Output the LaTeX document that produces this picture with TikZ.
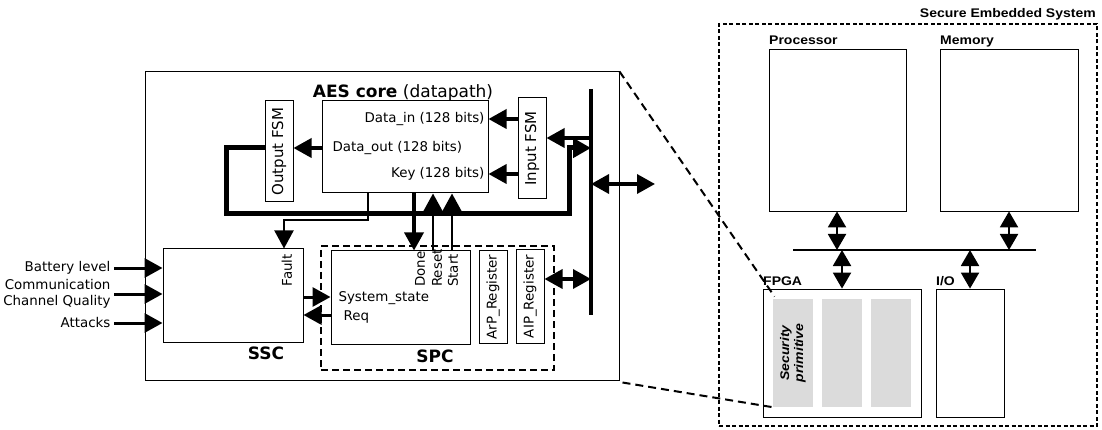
\documentclass[tikz,border=0pt]{standalone}
\usepackage{fontspec}
\setmainfont{DejaVu Sans}
\newfontfamily\sysfont[FakeStretch=1.12]{Liberation Sans}
\usetikzlibrary{arrows.meta}

\begin{document}
\begin{tikzpicture}[x=1pt,y=-1pt,font=\fontsize{13.4}{15}\selectfont,
   box/.style={draw,line width=1pt,inner sep=0pt},
   sbox/.style={draw,line width=0.8pt,inner sep=0pt},
   arr/.style={line width=3.5pt,-{Triangle[length=18pt,width=19pt]}},
   darr/.style={line width=3.5pt,{Triangle[length=18pt,width=19pt]}-{Triangle[length=18pt,width=19pt]}},
   sarr/.style={line width=2pt,{Triangle[length=16pt,width=18pt]}-{Triangle[length=16pt,width=18pt]}},
   spcdash/.style={line width=2pt,dash pattern=on 7pt off 4pt},
   sysdash/.style={line width=1.6pt,dash pattern=on 4pt off 2.5pt},
   zoomln/.style={line width=2pt,dash pattern=on 8pt off 5pt},
   big/.style={font=\fontsize{17}{19}\selectfont\bfseries},
   vlab/.style={rotate=90,anchor=west,inner sep=1pt},
   rlab/.style={font=\sysfont\fontsize{12.5}{14}\selectfont\bfseries}]
\useasboundingbox (0,0) rectangle (1102,430);
% box from its corners: [opts]{name}{x1}{y1}{x2}{y2}{text}
\newcommand{\blk}[7][]{\pgfmathsetmacro{\bw}{#5-#3}\pgfmathsetmacro{\bh}{#6-#4}
  \node[box,minimum width=\bw pt,minimum height=\bh pt,#1] (#2) at ({(#3+#5)/2},{(#4+#6)/2}) {#7};}
% left: the AES core block
\blk{core}{145}{72}{619}{380}{}
\blk{aes}{322}{101}{488}{193}{}
\node[anchor=base,font=\fontsize{17}{19}\selectfont] (aest) at (403,98) {\textbf{AES core} (datapath)};
\blk{ofsm}{265}{101}{293}{202}{}
\node[rotate=90,font=\fontsize{15}{17}\selectfont] (ofsmt) at (ofsm) {Output FSM};
\blk{ifsm}{518}{98}{546}{199}{}
\node[rotate=90,font=\fontsize{15}{17}\selectfont] (ifsmt) at (ifsm) {Input FSM};
\node[anchor=east] (din) at (488,119) {Data\_in (128 bits)};
\node[anchor=west] (dout) at (329,148) {Data\_out (128 bits)};
\node[anchor=east] (key) at (488,174) {Key (128 bits)};
\draw[arr] (ifsm.west |- din) -- (aes.east |- din);
\draw[arr] (ifsm.west |- key) -- (aes.east |- key);
\draw[arr] (aes.west |- dout) -- (ofsm.east |- dout);
% bus and loop back
\coordinate (bt) at (591,89); \coordinate (bb) at (591,315);
\draw[line width=3.5pt] (bt) -- (bb);
\coordinate (lp) at (226,214); \coordinate (lq) at (569,214); \coordinate (lin) at (591,148);
\draw[line width=5pt,-{Triangle[length=18pt,width=19pt]}] (ofsm.west |- dout) -| (lp) -- (lq) |- (lin);
\coordinate (fin) at (591,138);
\draw[arr] (fin) -- (ifsm.east |- fin);
\coordinate (ext) at (655,184);
\draw[darr] (bt |- ext) -- (ext);
% SSC
\blk{ssc}{163}{249}{303}{342}{}
\node[big] (ssct) at (266,353) {SSC};
\node[rotate=90,anchor=east,inner sep=1pt] (fault) at (287,253) {Fault};
\draw[arr,line width=2pt] (aes.south -| 368,0) |- (284,220) -- (ssc.north -| 284,0);
\node[anchor=east] (bat) at (114,268) {Battery level};
\node[anchor=east,align=right,font=\fontsize{13.4}{16}\selectfont] (ccq) at (114,294) {Communication\\Channel Quality};
\node[anchor=east] (att) at (114,323) {Attacks};
\draw[arr,line width=3pt] (bat.east) -- (ssc.west |- bat);
\draw[arr,line width=3pt] (ccq.east) -- (ssc.west |- ccq);
\draw[arr,line width=3pt] (att.east) -- (ssc.west |- att);
% SPC
\blk[spcdash]{spcd}{321}{246}{554}{370}{}
\blk{spc}{331}{251}{470}{344}{}
\node[big] (spct) at (435,356) {SPC};
\blk{arp}{479}{251}{507}{343}{}
\blk{aip}{516}{250}{544}{343}{}
\node[rotate=90] (arpt) at (arp) {ArP\_Register};
\node[rotate=90] (aipt) at (aip) {AIP\_Register};
\node[anchor=base west] (sst) at (335,301) {System\_state};
\node[anchor=base west] (req) at (340,320) {Req};
\draw[arr,line width=3pt] (ssc.east |- 0,297) -- (spc.west |- 0,297);
\draw[arr,line width=3pt] (spc.west |- 0,315) -- (ssc.east |- 0,315);
\node[vlab] (done) at (420,288) {Done};
\node[vlab] (reset) at (437,288) {Reset};
\node[vlab] (start) at (453,288) {Start};
\draw[arr] (aes.south -| 414,0) -- (spc.north -| 414,0);
\draw[arr,line width=2.5pt] (spc.north -| 433,0) -- (aes.south -| 433,0);
\draw[arr,line width=2.5pt] (spc.north -| 452,0) -- (aes.south -| 452,0);
\draw[darr] (aip.east |- 0,279) -- (bt |- 0,279);
% right: secure embedded system
\blk[sysdash]{ses}{719}{24}{1097}{426}{}
\node[rlab,anchor=base east,inner sep=0pt] (sest) at (1096,18) {Secure Embedded System};
\blk[sbox]{proc}{769}{49}{906}{211}{}
\blk[sbox]{mem}{940}{49}{1078}{211}{}
\blk[sbox]{fpga}{763}{289}{921}{417}{}
\blk[sbox]{io}{936}{289}{1004}{417}{}
\node[rlab,anchor=base west,inner sep=0pt] (proct) at (769,45) {Processor};
\node[rlab,anchor=base west,inner sep=0pt] (memt) at (940,45) {Memory};
\node[rlab,anchor=base west,inner sep=0pt] (fpgat) at (763,285) {FPGA};
\node[rlab,anchor=base west,inner sep=0pt] (iot) at (936,285) {I/O};
\foreach \gx [count=\k] in {773,822,871}{
  \pgfmathsetmacro{\gr}{\gx+40}
  \blk[fill=black!14,draw=none]{g\k}{\gx}{299}{\gr}{407}{}}
\node[rotate=90,align=center,font=\sysfont\fontsize{12.5}{14}\selectfont\bfseries\itshape] (secp) at (g1) {Security\\primitive};
\coordinate (sbl) at (793,250); \coordinate (sbr) at (1036,250);
\draw[line width=2.5pt] (sbl) -- (sbr);
\draw[sarr] (proc.south -| 837,0) -- (sbl -| 837,0);
\draw[sarr] (mem.south -| 1009,0) -- (sbl -| 1009,0);
\draw[sarr] (sbl -| 842,0) -- (fpga.north -| 842,0);
\draw[sarr] (sbl -| 970,0) -- (io.north -| 970,0);
% zoom lines
\draw[zoomln] (core.north east) -- ([shift={(2,-2)}]g1.north west);
\draw[zoomln] ([shift={(3,2)}]core.south east) -- ([shift={(2,0)}]g1.south west);
\end{tikzpicture}
\end{document}
